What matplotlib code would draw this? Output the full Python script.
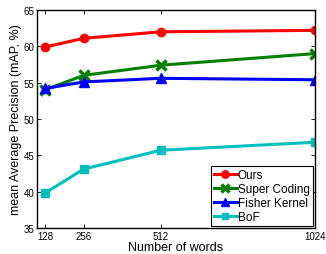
import matplotlib
matplotlib.use("Agg")
import matplotlib.pyplot as plt

plt.rcParams['font.family'] = ['Liberation Sans', 'DejaVu Sans']

words = [128, 256, 512, 1024]
ours = [59.9, 61.1, 62.0, 62.2]
super_coding = [54.0, 56.0, 57.4, 59.0]
fisher = [54.2, 55.1, 55.6, 55.4]
bof = [39.8, 43.1, 45.7, 46.8]

fig = plt.figure(figsize=(3.26, 2.55), dpi=100)
ax = fig.add_axes([37/326, 1-229/255, (315-37)/326, (229-11)/255])

ax.plot(words, ours, color='#ff0000', marker='o', ms=6, lw=2.2, label='Ours')
ax.plot(words, super_coding, color='#008000', marker='x', ms=7, mew=2.5, lw=2.2, label='Super Coding')
ax.plot(words, fisher, color='#0000ff', marker='^', ms=6.5, lw=2.2, label='Fisher Kernel')
ax.plot(words, bof, color='#00bfbf', marker='s', ms=5.5, lw=2.2, label='BoF')

ax.set_xlim(101.5, 1024)
ax.set_ylim(35, 65)
ax.set_xticks(words)
ax.set_yticks([35, 40, 45, 50, 55, 60, 65])
ax.tick_params(direction='in', top=True, right=True, labelsize=7, length=3, width=0.6, pad=2)
for s in ax.spines.values():
    s.set_linewidth(1.0)
ax.set_xlabel('Number of words', fontsize=9, labelpad=0)
ax.set_ylabel('mean Average Precision (mAP, %)', fontsize=9, labelpad=1)

leg = ax.legend(loc='lower right', fontsize=8.5, fancybox=False, framealpha=1,
                edgecolor='black', borderpad=0.25, labelspacing=0.15,
                handlelength=1.9, handletextpad=0.1, borderaxespad=0.2,
                markerscale=0.9)
leg.get_frame().set_linewidth(0.8)

fig.savefig('out.png', dpi=100)
